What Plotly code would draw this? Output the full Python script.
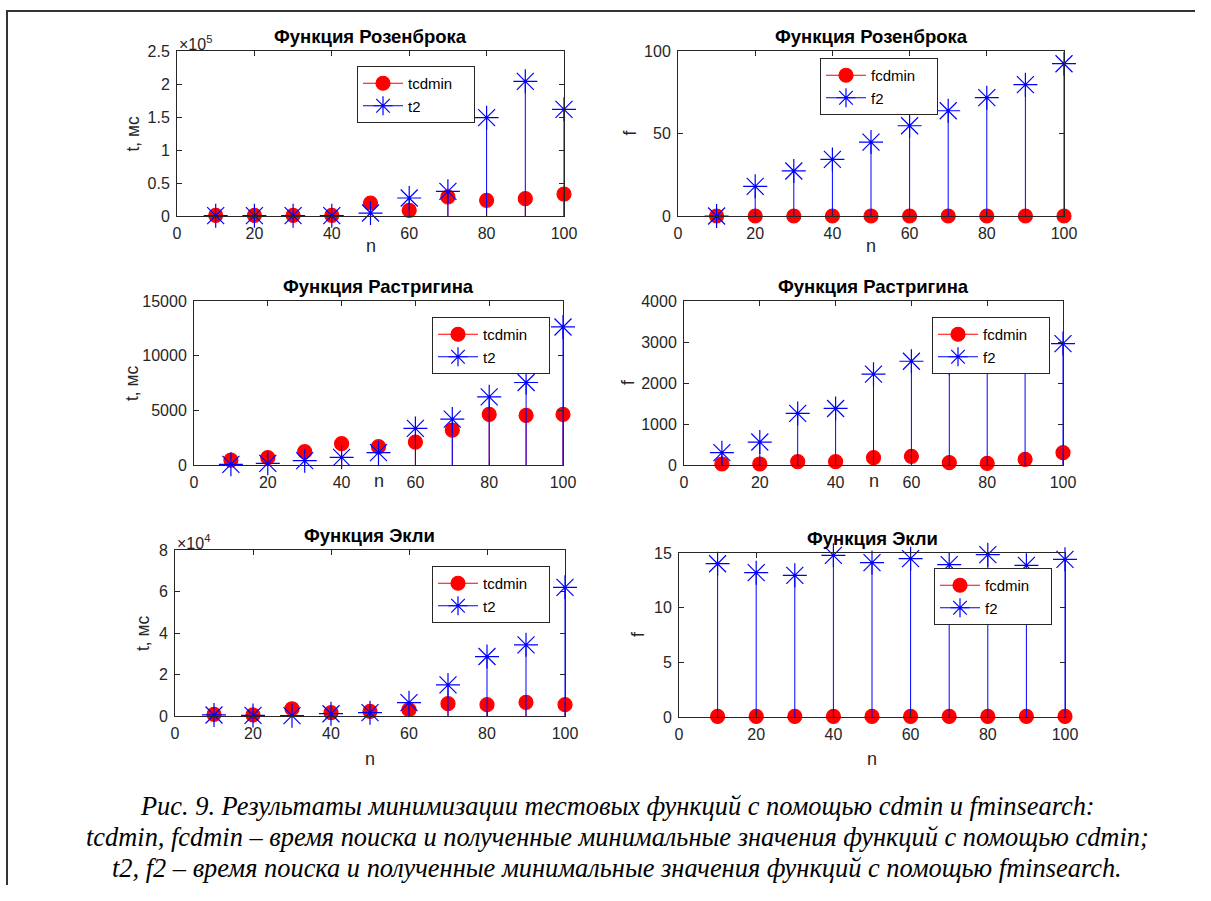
import plotly.graph_objects as go

# Figure kept slightly smaller than the 1211x901 window so that the page never overflows.
FW, FH = 1195, 885

n = [10, 20, 30, 40, 50, 60, 70, 80, 90, 100]

# Rosenbrock
ros_tcdmin = [1000, 1000, 1000, 1000, 19700, 8600, 28800, 23700, 26300, 33300]
ros_t2 = [500, 500, 500, 500, 4500, 27300, 37400, 149000, 204000, 161600]
ros_fcdmin = [0, 0, 0, 0, 0, 0, 0, 0, 0, 0]
ros_f2 = [0, 18, 27.3, 34.3, 44.8, 54.7, 63.8, 71.7, 79.6, 92.3]

# Rastrigin
ras_tcdmin = [450, 670, 1217, 1947, 1673, 2099, 3194, 4624, 4533, 4624]
ras_t2 = [60, 150, 400, 700, 1125, 3346, 4198, 6237, 7545, 12625]
ras_fcdmin = [25, 25, 81, 81, 178, 211, 57, 40, 138, 300]
ras_f2 = [300, 560, 1258, 1379, 2215, 2531, 2480, 2700, 2800, 2961]

# Ackley
ack_tcdmin = [800, 500, 3500, 1600, 2250, 3060, 5960, 5480, 6600, 5480]
ack_t2 = [500, 300, 160, 1100, 1600, 6440, 14980, 28660, 34300, 62000]
ack_fcdmin = [0.05] * 10
ack_f2 = [14.02, 13.2, 12.96, 14.79, 14.12, 14.48, 13.93, 14.85, 13.87, 14.42]

titles = ["Функция Розенброка", "Функция Розенброка",
          "Функция Растригина", "Функция Растригина",
          "Функция Экли", "Функция Экли"]

panels = [
    dict(red=ros_tcdmin, blue=ros_t2, rname="tcdmin", bname="t2", ylab="t, мс",
         yrange=[0, 250000], tickvals=[0, 50000, 100000, 150000, 200000, 250000],
         ticktext=["0", "0.5", "1", "1.5", "2", "2.5"], expo="×10<sup>5</sup>",
         box=(177, 564, 51, 216), leg=(357, 66), ylx=133, nly=246, tly=37, expo_pos=(177, 43)),
    dict(red=ros_fcdmin, blue=ros_f2, rname="fcdmin", bname="f2", ylab="f",
         yrange=[0, 100], tickvals=[0, 50, 100], ticktext=["0", "50", "100"], expo=None,
         box=(678, 1064, 51, 216), leg=(820, 58), ylx=630, nly=246, tly=37),
    dict(red=ras_tcdmin, blue=ras_t2, rname="tcdmin", bname="t2", ylab="t, мс",
         yrange=[0, 15000], tickvals=[0, 5000, 10000, 15000],
         ticktext=["0", "5000", "10000", "15000"], expo=None,
         box=(194, 563, 301, 465), leg=(432, 317), ylx=132, nly=481, tly=286),
    dict(red=ras_fcdmin, blue=ras_f2, rname="fcdmin", bname="f2", ylab="f",
         yrange=[0, 4000], tickvals=[0, 1000, 2000, 3000, 4000],
         ticktext=["0", "1000", "2000", "3000", "4000"], expo=None,
         box=(684, 1063, 301, 465), leg=(932, 317), ylx=628, nly=481, tly=286),
    dict(red=ack_tcdmin, blue=ack_t2, rname="tcdmin", bname="t2", ylab="t, мс",
         yrange=[0, 80000], tickvals=[0, 20000, 40000, 60000, 80000],
         ticktext=["0", "2", "4", "6", "8"], expo="×10<sup>4</sup>",
         box=(175, 565, 550, 716), leg=(432, 566), ylx=143, nly=759, tly=535, expo_pos=(175, 542)),
    dict(red=ack_fcdmin, blue=ack_f2, rname="fcdmin", bname="f2", ylab="f",
         yrange=[0, 15], tickvals=[0, 5, 10, 15], ticktext=["0", "5", "10", "15"], expo=None,
         box=(679, 1065, 553, 717), leg=(934, 568), ylx=638, nly=759, tly=538),
]

AX = "#262626"
FONT = "Liberation Sans, Arial, sans-serif"
PAD = "\u00a0\u00a0\u00a0\u00a0"

fig = go.Figure()
annotations = []
layout = {}


def px(x):
    return x / FW


def py(y):
    return 1 - y / FH


def stem_xy(xs, ys):
    sx, sy = [], []
    for a, b in zip(xs, ys):
        sx += [a, a, None]
        sy += [0, b, None]
    return sx, sy


def gap_xy(xs, ys):
    gx, gy = [], []
    for a, b in zip(xs, ys):
        gx += [a, None]
        gy += [b, None]
    return gx, gy


for i, p in enumerate(panels):
    k = i + 1
    xa = "x" if k == 1 else f"x{k}"
    ya = "y" if k == 1 else f"y{k}"
    leg = "legend" if k == 1 else f"legend{k}"
    l, r, t, b = p["box"]

    for vals, col, name, sym, size in [
        (p["red"], "#ff0000", p["rname"] + PAD, "circle", 14),
        (p["blue"], "#0000ff", p["bname"], "asterisk-open", 20),
    ]:
        sx, sy = stem_xy(n, vals)
        fig.add_trace(go.Scatter(x=sx, y=sy, mode="lines", xaxis=xa, yaxis=ya,
                                 line=dict(color=col, width=1), showlegend=False,
                                 hoverinfo="skip", cliponaxis=False))
        gx, gy = gap_xy(n, vals)
        fig.add_trace(go.Scatter(x=gx, y=gy, mode="lines+markers", xaxis=xa, yaxis=ya,
                                 name=name, legend=leg,
                                 line=dict(color=col, width=1),
                                 marker=dict(symbol=sym, size=size, color=col,
                                             line=dict(color=col, width=1.2)),
                                 cliponaxis=False))

    axkey = "xaxis" if k == 1 else f"xaxis{k}"
    aykey = "yaxis" if k == 1 else f"yaxis{k}"
    layout[axkey] = dict(domain=[px(l), px(r)], anchor=ya, range=[0, 100],
                         tickvals=[0, 20, 40, 60, 80, 100], ticks="inside", ticklen=5,
                         tickcolor=AX, showline=True, linecolor=AX, linewidth=1,
                         mirror="ticks", showgrid=False, zeroline=False, automargin=False,
                         ticklabelstandoff=3,
                         tickfont=dict(family=FONT, size=16, color=AX))
    layout[aykey] = dict(domain=[py(b), py(t)], anchor=xa, range=p["yrange"],
                         tickvals=p["tickvals"], ticktext=p["ticktext"],
                         ticks="inside", ticklen=5, tickcolor=AX, showline=True,
                         linecolor=AX, linewidth=1, mirror="ticks", showgrid=False,
                         zeroline=False, automargin=False, ticklabelstandoff=3,
                         tickfont=dict(family=FONT, size=16, color=AX))
    layout[leg] = dict(x=px(p["leg"][0]), y=py(p["leg"][1]), xanchor="left", yanchor="top",
                       bgcolor="white", bordercolor=AX, borderwidth=1,
                       font=dict(family=FONT, size=15, color="black"),
                       tracegroupgap=0, itemwidth=40)

    cx = (l + r) / 2
    annotations.append(dict(text=f"<b>{titles[i]}</b>", x=px(cx), y=py(p["tly"]),
                            xref="paper", yref="paper", showarrow=False,
                            xanchor="center", yanchor="middle",
                            font=dict(family=FONT, size=18.5, color="black")))
    annotations.append(dict(text=p["ylab"], x=px(p["ylx"]), y=py((t + b) / 2),
                            xref="paper", yref="paper", showarrow=False, textangle=-90,
                            xanchor="center", yanchor="middle",
                            font=dict(family=FONT, size=17.5, color=AX)))
    annotations.append(dict(text="n", x=px(cx), y=py(p["nly"]),
                            xref="paper", yref="paper", showarrow=False,
                            xanchor="center", yanchor="middle",
                            font=dict(family=FONT, size=18, color=AX)))
    if p["expo"]:
        ex, ey = p["expo_pos"]
        annotations.append(dict(text=p["expo"], x=px(ex), y=py(ey),
                                xref="paper", yref="paper", showarrow=False,
                                xanchor="left", yanchor="middle",
                                font=dict(family=FONT, size=16, color=AX)))

caption = [
    "Рис. 9. Результаты минимизации тестовых функций с помощью cdmin и fminsearch:",
    "tcdmin, fcdmin – время поиска и полученные минимальные значения функций с помощью cdmin;",
    "t2, f2 – время поиска и полученные минимальные значения функций с помощью fminsearch.",
]
for j, (line, yy) in enumerate(zip(caption, [806, 837, 868])):
    annotations.append(dict(text=f"<i>{line}</i>", x=px(617), y=py(yy), xref="paper",
                            yref="paper", showarrow=False, xanchor="center",
                            yanchor="middle",
                            font=dict(family="Liberation Serif, Times New Roman, serif",
                                      size=26.4, color="black")))

shapes = [
    dict(type="line", xref="paper", yref="paper", x0=px(6), x1=1, y0=py(11), y1=py(11),
         line=dict(color="#333333", width=2)),
    dict(type="line", xref="paper", yref="paper", x0=px(7), x1=px(7), y0=0, y1=py(11),
         line=dict(color="#333333", width=2)),
]

fig.update_layout(width=FW, height=FH, margin=dict(l=0, r=0, t=0, b=0),
                  paper_bgcolor="white", plot_bgcolor="white",
                  annotations=annotations, shapes=shapes, **layout)

fig.write_html("out.html")
